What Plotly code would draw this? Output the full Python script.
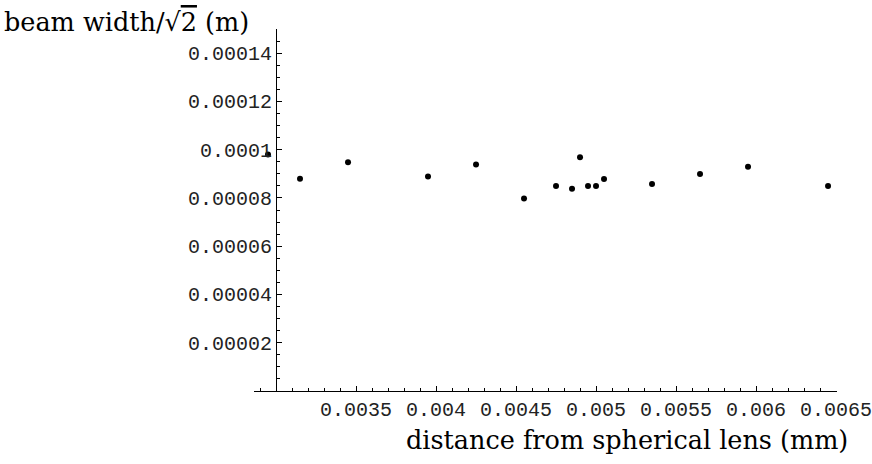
import plotly.graph_objects as go

# distance from spherical lens and beam width / sqrt(2)
distance = [0.00295, 0.00315, 0.00345, 0.00395, 0.00425, 0.00455, 0.00475, 0.00485,
            0.0049, 0.00495, 0.0050, 0.00505, 0.00535, 0.00565, 0.00595, 0.00645]
width = [9.80e-5, 8.80e-5, 9.48e-5, 8.89e-5, 9.39e-5, 7.98e-5, 8.49e-5, 8.38e-5,
         9.69e-5, 8.49e-5, 8.49e-5, 8.78e-5, 8.58e-5, 8.99e-5, 9.29e-5, 8.49e-5]

x_ticks = [0.0035, 0.004, 0.0045, 0.005, 0.0055, 0.006, 0.0065]
x_labels = ['0.0035', '0.004', '0.0045', '0.005', '0.0055', '0.006', '0.0065']
y_ticks = [0.00002, 0.00004, 0.00006, 0.00008, 0.0001, 0.00012, 0.00014]
y_labels = ['0.00002', '0.00004', '0.00006', '0.00008', '0.0001', '0.00012', '0.00014']

x_range = [0.0028625, 0.006506]
y_origin_x = 0.003

tick_font = dict(family='Liberation Mono', size=20, color='#222')
label_font = dict(family='DejaVu Serif', size=25.5, color='black')

fig = go.Figure()
fig.add_trace(go.Scatter(x=distance, y=width, mode='markers',
                         marker=dict(color='black', size=6),
                         cliponaxis=False, showlegend=False))

ypos = (y_origin_x - x_range[0]) / (x_range[1] - x_range[0])

fig.update_layout(
    width=872, height=464,
    margin=dict(l=254, r=35, t=29, b=73, autoexpand=False),
    plot_bgcolor='white', paper_bgcolor='white',
    xaxis=dict(range=x_range, tickvals=x_ticks, ticktext=x_labels,
               showgrid=False, zeroline=False, showline=True, linecolor='black',
               linewidth=1, ticks='inside', ticklen=5, tickcolor='black',
               tickfont=tick_font, ticklabeloverflow='allow', automargin=False,
               minor=dict(dtick=0.0001, tick0=0.003, ticks='inside', ticklen=3,
                          tickcolor='black', showgrid=False)),
    yaxis=dict(range=[0, 0.00015], tickvals=y_ticks, ticktext=y_labels,
               anchor='free', position=ypos, automargin=False,
               showgrid=False, zeroline=False, showline=True, linecolor='black',
               linewidth=1, ticks='inside', ticklen=5, tickcolor='black',
               tickfont=tick_font,
               minor=dict(dtick=0.000005, tick0=0, ticks='inside', ticklen=3,
                          tickcolor='black', showgrid=False)),
    annotations=[
        dict(text="beam width/√<span style='text-decoration:overline'>2</span> (m)",
             xref='paper', yref='paper',
             x=-252 / 583, y=1 + 7 / 362, xanchor='left', yanchor='middle',
             showarrow=False, font=label_font),
        dict(text='distance from spherical lens (mm)', xref='paper', yref='paper',
             x=(850 - 254) / 583, y=-(440 - 391) / 362, xanchor='right', yanchor='middle',
             showarrow=False, font=label_font),
    ],
)

fig.write_html("out.html", config={'displayModeBar': False},
               post_script="document.body.style.margin='0';")
